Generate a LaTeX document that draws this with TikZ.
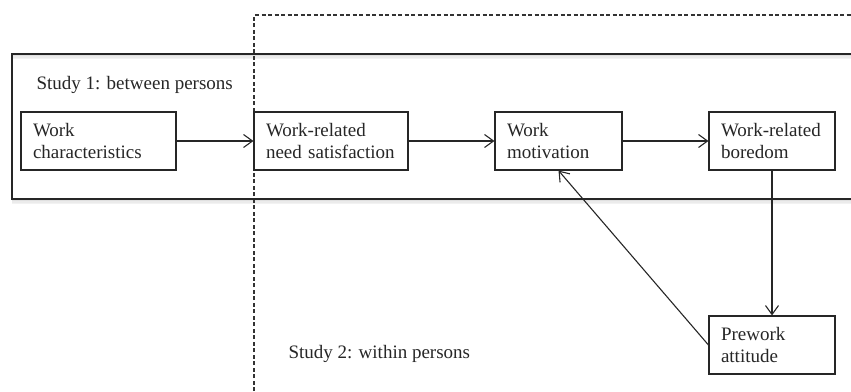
\documentclass[tikz,border=0pt]{standalone}
\usepackage{fontspec}
\setmainfont{Liberation Serif}
\usetikzlibrary{arrows.meta}
\begin{document}
\begin{tikzpicture}[x=1pt,y=-1pt,
  every node/.style={font=\fontsize{19}{22.5}\selectfont, text=black!85},
  var/.style={draw=black!85, line width=1.1pt, inner xsep=12pt, inner ysep=0pt,
    minimum height=58pt, align=left, anchor=center},
  conn/.style={draw=black!85, line width=1.1pt, -{Straight Barb[length=9pt,width=13pt,line width=1.1pt]}},
  studydash/.style={draw=black!80, line width=1.1pt, dash pattern=on 4pt off 2.5pt}]
\useasboundingbox (0,0) rectangle (851,391);
% shadow of the study 1 frame
\foreach \o/\op in {1.5/0.12,3/0.08,4.5/0.05}{
  \draw[line width=1.6pt, black, opacity=\op] (12,199+\o) -- (851,199+\o);
  \draw[line width=1.6pt, black, opacity=\op] (12,54+\o) -- (851,54+\o);
}
\draw[studydash] (254,391) -- (254,15) -- (851,15);
\draw[draw=black!85, line width=1.1pt] (851,54) -- (12,54) -- (12,199) -- (851,199);
\node[anchor=base west] (s1) at (33,89) {Study 1: between persons};
\node[anchor=base west] (s2) at (285,358) {Study 2: within persons};
\node[var, text width=131pt] (wc) at (98.5,141) {Work\\characteristics};
\node[var, text width=130pt] (ns) at (331,141) {Work-related\\need satisfaction};
\node[var, text width=103pt] (wm) at (558.5,141) {Work\\motivation};
\node[var, text width=102pt] (wb) at (772,141) {Work-related\\boredom};
\node[var, text width=102pt] (pa) at (772,345) {Prework\\attitude};
\draw[conn] (wc) -- (ns);
\draw[conn] (ns) -- (wm);
\draw[conn] (wm) -- (wb);
\draw[conn] (wb) -- (pa);
\draw[conn] (pa.west) -- (wm.south);
\end{tikzpicture}
\end{document}
